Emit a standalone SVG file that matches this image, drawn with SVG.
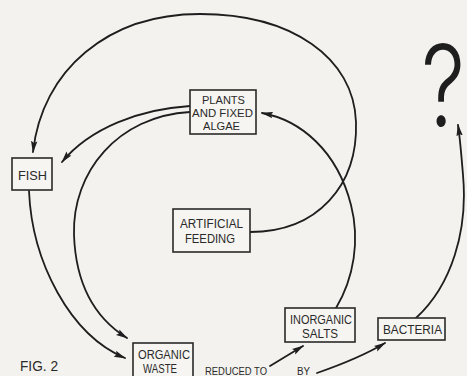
<svg xmlns="http://www.w3.org/2000/svg" width="467" height="376" viewBox="0 0 467 376">
<defs>
<marker id="ah" viewBox="0 0 12 8" refX="11" refY="4" markerWidth="12" markerHeight="8" markerUnits="userSpaceOnUse" orient="auto">
<path d="M0,0.8 L12,4 L0,7.2 L2,4 Z" fill="#1e1e1e"/>
</marker>
<style>
.box{fill:#f6f5f1;stroke:#2a2a2a;stroke-width:1.6}
.lbl{font-family:"Liberation Sans",Arial,sans-serif;font-size:12px;fill:#2a2a2a;text-anchor:start}
.sm{font-size:11px}
.ln{fill:none;stroke:#1e1e1e;stroke-width:1.8;stroke-linecap:round}
.arr{marker-end:url(#ah)}
</style>
</defs>
<rect x="0" y="0" width="467" height="376" fill="#f3f2ee"/>
<g id="connectors">
<path class="ln arr" d="M250,232 C318,232 358,185 356,122 C354,58 292,14 200,14 C108,14 42,70 33,152"/>
<path class="ln arr" d="M190,106 C140,109 90,128 62,162"/>
<path class="ln arr" d="M190,112 C118,116 72,172 74,235 C76,290 98,320 127,338"/>
<path class="ln arr" d="M29,191 C32,262 70,335 125,358"/>
<path class="ln arr" d="M336,308 C354,278 360,240 351,205 C337,150 300,120 262,113"/>
<path class="ln arr" d="M270,366 L303,346"/>
<path class="ln arr" d="M317,373 C340,365 365,355 385,343"/>
<path class="ln arr" d="M416,318 C452,285 468,230 463,175 C461,150 460,138 458,125"/>
</g>
<g id="plants">
<rect class="box" x="190" y="90" width="66" height="44"/>
<text class="lbl sm" x="202" y="104" textLength="43" lengthAdjust="spacingAndGlyphs">PLANTS</text>
<text class="lbl sm" x="192" y="117" textLength="61" lengthAdjust="spacingAndGlyphs">AND FIXED</text>
<text class="lbl sm" x="203" y="130" textLength="37" lengthAdjust="spacingAndGlyphs">ALGAE</text>
</g>
<g id="fish">
<rect class="box" x="12" y="158" width="40" height="32"/>
<text class="lbl" x="18" y="180" textLength="29" lengthAdjust="spacingAndGlyphs">FISH</text>
</g>
<g id="artificial">
<rect class="box" x="173" y="209" width="77" height="43"/>
<text class="lbl" x="180" y="228" textLength="63" lengthAdjust="spacingAndGlyphs">ARTIFICIAL</text>
<text class="lbl" x="185" y="243" textLength="50" lengthAdjust="spacingAndGlyphs">FEEDING</text>
</g>
<g id="organic">
<rect class="box" x="133" y="343" width="60" height="40"/>
<text class="lbl" x="138" y="359" textLength="52" lengthAdjust="spacingAndGlyphs">ORGANIC</text>
<text class="lbl" x="143" y="373" textLength="34" lengthAdjust="spacingAndGlyphs">WASTE</text>
</g>
<g id="inorganic">
<rect class="box" x="285" y="308" width="70" height="34"/>
<text class="lbl" x="290" y="324" textLength="62" lengthAdjust="spacingAndGlyphs">INORGANIC</text>
<text class="lbl" x="302" y="338" textLength="36" lengthAdjust="spacingAndGlyphs">SALTS</text>
</g>
<g id="bacteria">
<rect class="box" x="378" y="318" width="67" height="22"/>
<text class="lbl" x="383" y="334" textLength="59" lengthAdjust="spacingAndGlyphs">BACTERIA</text>
</g>
<g id="labels">
<text class="lbl" x="20" y="371" style="font-size:14px" textLength="38" lengthAdjust="spacingAndGlyphs">FIG. 2</text>
<text class="lbl" x="205" y="375" style="font-size:10px" textLength="62" lengthAdjust="spacingAndGlyphs">REDUCED TO</text>
<text class="lbl" x="297" y="375" style="font-size:10px" textLength="13" lengthAdjust="spacingAndGlyphs">BY</text>
</g>
<g id="question">
<text x="0" y="0" transform="translate(443,126) scale(0.78,1)" style="font-family:Inter,'Open Sans',sans-serif;font-weight:300;font-size:112px;fill:#1e1e1e;text-anchor:middle">?</text>
</g>
</svg>
